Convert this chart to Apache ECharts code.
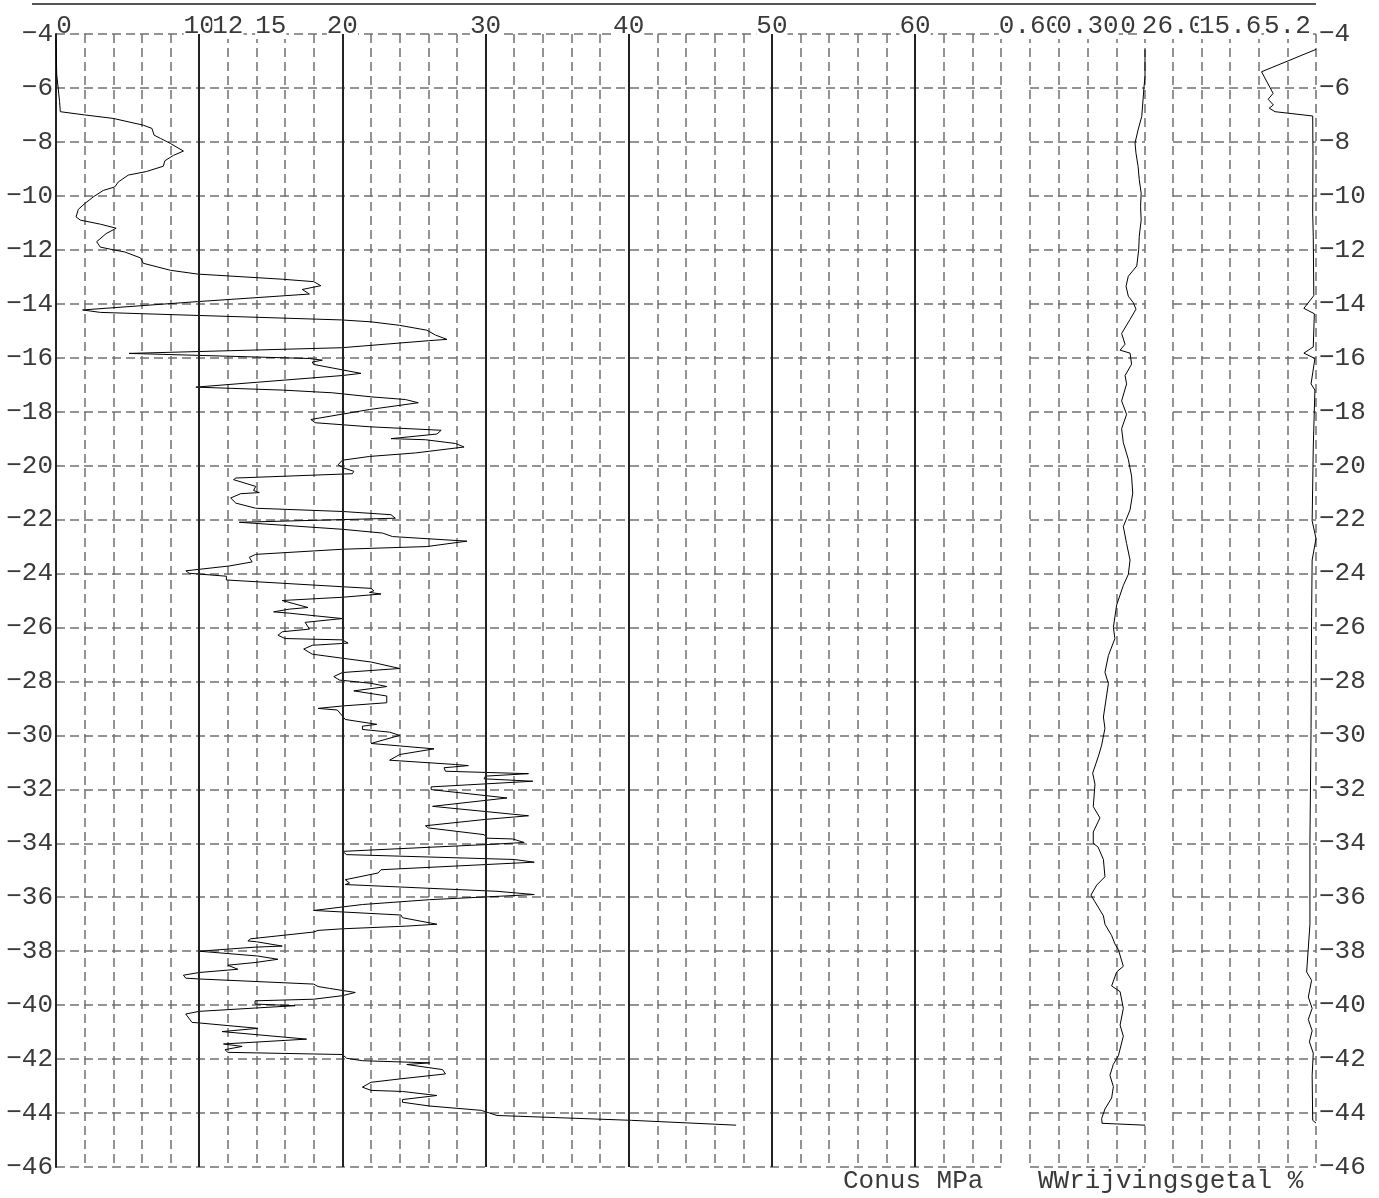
<!DOCTYPE html>
<html>
<head>
<meta charset="utf-8">
<script src="https://cdn.jsdelivr.net/npm/echarts@6/dist/echarts.min.js"></script>
<style>
    html, body { margin: 0; padding: 0; background: #fff; }
    #chart { width: 1379px; height: 1198px; }
</style>
</head>
<body>
<div id="chart"></div>
<script>
// conus (MPa) against depth (m)
var conusDepth = [-4.2, -5.5, -6.5, -6.88, -7.0, -7.13, -7.38, -7.5, -7.75, -7.87, -8.06, -8.34, -8.5, -8.7, -8.9, -9.1, -9.23, -9.48, -9.67, -9.8,
    -10.04, -10.29, -10.5, -10.78, -10.9, -11.05, -11.2, -11.4, -11.7, -11.9, -12.0, -12.08, -12.3, -12.5, -12.76, -12.9, -13.09, -13.18, -13.33, -13.47,
    -13.64, -13.92, -14.23, -14.32, -14.6, -14.67, -14.8, -14.98, -15.16, -15.32, -15.37, -15.63, -15.84, -15.9, -16.03, -16.09, -16.16, -16.25, -16.58, -16.66,
    -17.09, -17.2, -17.3, -17.45, -17.55, -17.67, -17.92, -18.29, -18.41, -18.56, -18.69, -18.83, -19.0, -19.04, -19.18, -19.31, -19.53, -19.66, -19.8, -19.97,
    -20.09, -20.21, -20.3, -20.46, -20.52, -20.77, -20.92, -21.0, -21.04, -21.2, -21.39, -21.58, -21.7, -21.82, -21.95, -22.1, -22.36, -22.5, -22.63, -22.8,
    -23.0, -23.1, -23.29, -23.4, -23.57, -23.72, -23.9, -23.99, -24.1, -24.24, -24.49, -24.55, -24.64, -24.7, -24.76, -24.88, -25.0, -25.07, -25.26, -25.32,
    -25.42, -25.47, -25.67, -25.81, -26.06, -26.16, -26.29, -26.41, -26.46, -26.58, -26.66, -26.8, -26.99, -27.14, -27.28, -27.52, -27.67, -27.82, -27.95, -28.07,
    -28.19, -28.35, -28.54, -28.79, -28.91, -29.0, -29.06, -29.28, -29.41, -29.59, -29.66, -29.78, -29.88, -30.0, -30.3, -30.5, -30.71, -30.92, -31.08, -31.12,
    -31.2, -31.33, -31.42, -31.51, -31.61, -31.7, -31.91, -32.01, -32.32, -32.63, -32.98, -33.12, -33.35, -33.43, -33.68, -33.81, -33.84, -33.97, -34.05, -34.3,
    -34.42, -34.6, -34.7, -34.98, -35.1, -35.35, -35.47, -35.53, -35.78, -35.9, -36.09, -36.27, -36.49, -36.66, -36.76, -37.0, -37.07, -37.17, -37.23, -37.29,
    -37.54, -37.62, -37.65, -37.81, -37.85, -38.0, -38.18, -38.3, -38.42, -38.52, -38.67, -38.79, -38.89, -39.0, -39.03, -39.22, -39.31, -39.38, -39.53, -39.65,
    -39.78, -39.84, -39.96, -40.02, -40.23, -40.33, -40.64, -40.66, -40.86, -40.98, -41.26, -41.44, -41.53, -41.65, -41.75, -41.81, -41.83, -41.97, -42.06, -42.14,
    -42.2, -42.39, -42.55, -42.73, -42.86, -43.04, -43.16, -43.2, -43.35, -43.5, -43.6, -43.74, -43.9, -44.09, -44.27, -44.45];
var conusMPa = [0, 0.05, 0.25, 0.3, 2.0, 4.0, 6.1, 6.7, 6.85, 7.3, 8.0, 8.9, 8.2, 7.6, 7.5, 6.3, 5.05, 4.36, 4.1, 3.3,
    2.6, 2.0, 1.56, 1.4, 1.7, 3.1, 4.2, 3.5, 2.84, 3.1, 4.0, 4.8, 5.9, 6.1, 8.0, 9.9, 15.8, 18.0, 18.5, 17.2,
    17.7, 9.9, 1.86, 3.1, 19.95, 22, 24, 25.9, 26.5, 27.3, 26, 19.95, 5.1, 5.0, 17.7, 18.6, 17.9, 18.0, 21.3, 20,
    9.77, 15.8, 19.3, 22.0, 24.4, 25.3, 21.9, 17.8, 18.1, 21.9, 26.9, 26.6, 23.4, 25.8, 27.9, 28.5, 25.1, 21.9, 20, 19.7,
    20.1, 20.8, 20.7, 12.56, 12.4, 13.95, 13.8, 14.2, 12.9, 12.2, 12.56, 13.95, 20, 23.4, 23.7, 12.8, 20, 22.8, 23.5, 28.7,
    25.9, 20, 13.95, 13.5, 13.7, 12.1, 9.07, 9.3, 11.9, 11.9, 20, 22.0, 22.2, 21.9, 22.7, 20, 15.8, 15.7, 17.6, 16.3,
    15.2, 16.3, 20, 17.4, 17.7, 15.8, 15.5, 16.0, 20, 20.4, 17.9, 17.3, 17.9, 20, 22, 24, 20, 19.4, 19.8, 22,
    23.1, 20.8, 23.1, 23.1, 20, 18.3, 19.65, 20, 20.2, 22.4, 21.4, 21.4, 23.3, 24.0, 22.0, 26.4, 24.0, 23.3, 27.9, 28.8,
    27.1, 27.2, 33.0, 30, 29.9, 33.3, 26.2, 26.2, 31.5, 26.3, 33.0, 29.9, 25.8, 26.0, 29.9, 30.1, 31.9, 32.7, 30, 20,
    20.3, 32, 33.4, 22.7, 22.5, 20.2, 20.5, 20.2, 30.8, 33.4, 26.1, 21.4, 18.0, 24.1, 24.2, 26.6, 24.5, 20, 18.3, 18.0,
    13.6, 13.4, 14, 15.8, 13.9, 10, 14.1, 15.5, 13.9, 12.0, 12.7, 10, 8.9, 9.06, 10, 18, 18.3, 19.1, 20.9, 20,
    18.0, 13.9, 13.9, 16.7, 10, 9.06, 9.5, 10, 14.1, 11.6, 17.5, 11.7, 13, 11.8, 12, 18, 20, 20.3, 21.4, 26.1,
    24.5, 27, 27.2, 24.1, 22, 21.4, 22, 24.2, 26.6, 24.2, 24.2, 26.1, 29.7, 30.8, 40.2, 47.5];

// local friction (MPa) against depth (m)
var frictionDepth = [-4.57, -5.58, -5.95, -7.06, -7.55, -8.04, -8.42, -8.91, -9.4, -9.9, -10.4, -10.9, -11.5, -12.0, -12.6, -12.98, -13.35, -13.72, -13.96, -14.2,
    -14.58, -15.1, -15.5, -15.72, -15.83, -16.24, -16.66, -16.97, -17.6, -18.1, -18.63, -19.15, -19.77, -20.39, -21.02, -21.64, -22.26, -22.89, -23.5, -24.03,
    -24.44, -25.17, -26.0, -26.41, -27.04, -27.66, -28.08, -29.32, -29.74, -30.36, -30.77, -31.4, -31.81, -32.64, -33.06, -33.58, -34.0, -34.14, -34.6, -35.24,
    -35.55, -35.92, -36.17, -36.69, -37.0, -37.42, -37.73, -37.94, -38.56, -38.77, -39.29, -39.5, -40.12, -40.74, -41.15, -41.88, -42.19, -42.6, -43.02, -43.44,
    -43.85, -44.2, -44.38, -44.45];
var frictionMPa = [0, 0, 0.005, 0.017, 0.036, 0.052, 0.047, 0.036, 0.03, 0.02, 0.023, 0.02, 0.03, 0.033, 0.043, 0.087, 0.099, 0.087, 0.061, 0.047,
    0.078, 0.122, 0.104, 0.13, 0.078, 0.07, 0.104, 0.096, 0.122, 0.096, 0.122, 0.113, 0.087, 0.07, 0.064, 0.078, 0.113, 0.096, 0.078, 0.087,
    0.113, 0.148, 0.165, 0.157, 0.191, 0.209, 0.191, 0.217, 0.209, 0.226, 0.243, 0.273, 0.261, 0.27, 0.235, 0.27, 0.27, 0.245, 0.217, 0.209,
    0.252, 0.282, 0.261, 0.217, 0.209, 0.174, 0.157, 0.139, 0.113, 0.148, 0.174, 0.13, 0.113, 0.13, 0.113, 0.139, 0.165, 0.183, 0.165, 0.174,
    0.209, 0.226, 0.224, 0];

// wrijvingsgetal (%) against depth (m)
var ratioDepth = [-4.57, -5.4, -6.2, -6.42, -6.63, -6.75, -6.88, -7.04, -8.42, -10.64, -11.5, -13.7, -14.17, -14.37, -15.6, -15.83, -16.03, -16.97, -17.2, -19.35,
    -22.05, -22.7, -23.5, -25.58, -29.74, -33.9, -37.0, -38.77, -39.08, -39.7, -40.12, -40.53, -40.95, -41.36, -41.78, -42.6, -44.27, -44.37];
var ratioPct = [0, 9.9, 7.8, 8.7, 7.75, 8.5, 7.45, 0.6, 0.55, 0.6, 0.5, 0.4, 2.2, 0.3, 0.5, 2.2, 0.2, 0.9, 0.2, 0.5,
    0.7, 0, 0.7, 0.8, 0.9, 1.1, 1.1, 1.7, 0.8, 1.4, 0.7, 1.4, 0.7, 1.2, 0.5, 0.7, 0.6, 0];

// tick labels
var conusLabels = [0, 10, 12, 15, 20, 30, 40, 50, 60];
var conusSolid = [10, 20, 30, 40, 50, 60];
var frictionLabels = [0.6, 0.3, 0];
var ratioLabels = [26, 15.6, 5.2];

var FONT = "'Liberation Mono', 'DejaVu Sans Mono', monospace";
var TEXT = "#3a3a3a";

function pairs(xs, ys) {
    return xs.map(function (x, i) {
        return [x, ys[i]];
    });
}

var dashed = {
    show: true,
    lineStyle: {color: "#707070", width: 1.5, type: [9, 5]}
};

//标签带白底，后画的盖住前面的（重叠的标签分到不同的轴上，免得被自动隐藏）
function topLabels(values, fmt) {
    var base = {fontFamily: FONT, fontSize: 26, color: TEXT, lineHeight: 16};
    return {
        customValues: values,
        showMinLabel: true,
        showMaxLabel: true,
        formatter: fmt,
        margin: 0,
        fontFamily: FONT,
        fontSize: 26,
        color: TEXT,
        rich: {
            t: Object.assign({}, base, {backgroundColor: "#fff"}),
            first: Object.assign({}, base, {padding: [0, 0, 0, 16]}),
            last: Object.assign({}, base, {padding: [0, 34, 0, 0]})
        }
    };
}

function topAxis(gridIndex, min, max, interval, inverse, labels, fmt, splits) {
    return {
        gridIndex: gridIndex, type: "value", position: "top",
        min: min, max: max, interval: interval, inverse: inverse,
        axisLine: {show: false}, axisTick: {show: false},
        axisLabel: topLabels(labels, fmt),
        splitLine: splits ? dashed : {show: false}
    };
}

function depthAxis(gridIndex, position, showLabels) {
    return {
        gridIndex: gridIndex,
        type: "value",
        position: position,
        min: -46,
        max: -4,
        interval: 2,
        axisLine: {show: gridIndex == 0, lineStyle: {color: "#222", width: 2}},
        axisTick: {show: false},
        axisLabel: {
            show: showLabels,
            margin: 3,
            fontFamily: FONT,
            fontSize: 26,
            color: TEXT,
            formatter: function (v) {
                return String(v).replace("-", "\u2212");
            }
        },
        splitLine: dashed
    };
}

var conusFmt = function (v) {
    return v == 0 ? "{first|0}" : "{t|" + v + "}";
};
var frictionFmt = function (v) {
    return v == 0 ? "{last|0}" : "{t|" + v.toFixed(2) + "}";
};
var ratioFmt = function (v) {
    return "{t|" + v.toFixed(1) + "}";
};

var chart = echarts.init(document.getElementById("chart"));

var option = {
    animation: false,
    backgroundColor: "#fff",
    grid: [
        {left: 56, top: 34, width: 945, height: 1133, outerBoundsMode: "none"},
        {left: 1030, top: 34, width: 115, height: 1133, outerBoundsMode: "none"},
        {left: 1173, top: 34, width: 143, height: 1133, outerBoundsMode: "none"}
    ],
    title: [
        {
            text: "Conus MPa", left: 843, top: 1168, padding: 0,
            textStyle: {fontFamily: FONT, fontSize: 26, fontWeight: "normal", color: TEXT}
        },
        {
            text: "WWrijvingsgetal %", left: 1038, top: 1168, padding: 0,
            textStyle: {fontFamily: FONT, fontSize: 26, fontWeight: "normal", color: TEXT}
        }
    ],
    graphic: [
        {
            type: "line",
            shape: {x1: 32, y1: 4, x2: 1316, y2: 4},
            style: {stroke: "#555", lineWidth: 2}
        }
    ],
    xAxis: [
        topAxis(0, 0, 66, 2, false, conusLabels, conusFmt, true),
        topAxis(1, 0, 0.6, 0.15, true, frictionLabels.slice(0, 1), frictionFmt, true),
        topAxis(1, 0, 0.6, 0.15, true, frictionLabels.slice(1), frictionFmt, false),
        topAxis(2, 0, 26, 5.2, true, ratioLabels.slice(0, 1), ratioFmt, true),
        topAxis(2, 0, 26, 5.2, true, ratioLabels.slice(1), ratioFmt, false)
    ],
    yAxis: [
        depthAxis(0, "left", true),
        depthAxis(1, "left", false),
        depthAxis(2, "right", true)
    ],
    series: [
        {
            name: "Conus",
            type: "line",
            xAxisIndex: 0,
            yAxisIndex: 0,
            data: pairs(conusMPa, conusDepth),
            showSymbol: false,
            symbol: "none",
            lineStyle: {color: "#000", width: 1},
            markLine: {
                silent: true,
                symbol: ["none", "none"],
                label: {show: false},
                lineStyle: {color: "#222", width: 2, type: "solid"},
                data: conusSolid.map(function (v) {
                    return {xAxis: v};
                })
            },
            z: 3
        },
        {
            name: "Wrijving",
            type: "line",
            xAxisIndex: 1,
            yAxisIndex: 1,
            data: pairs(frictionMPa, frictionDepth),
            showSymbol: false,
            symbol: "none",
            lineStyle: {color: "#000", width: 1}
        },
        {
            name: "Wrijvingsgetal",
            type: "line",
            xAxisIndex: 3,
            yAxisIndex: 2,
            data: pairs(ratioPct, ratioDepth),
            showSymbol: false,
            symbol: "none",
            lineStyle: {color: "#000", width: 1}
        }
    ]
};

chart.setOption(option);
</script>
</body>
</html>
